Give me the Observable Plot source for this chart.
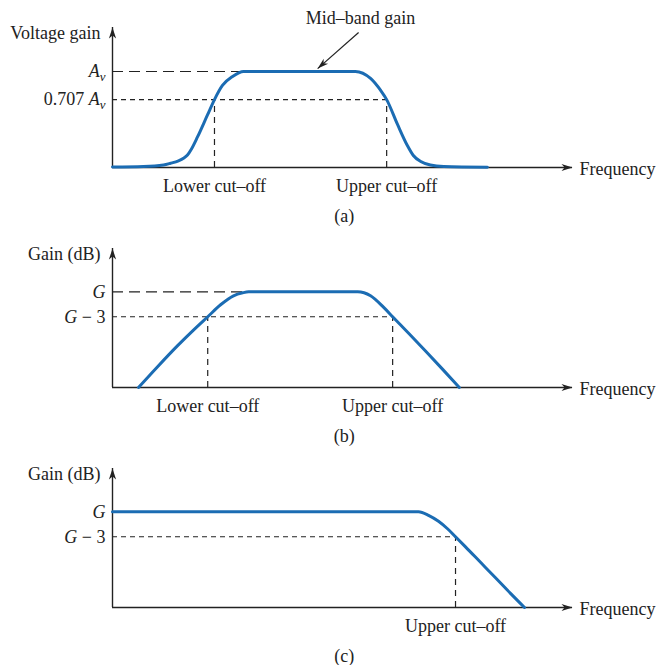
<!DOCTYPE html>
<html>
<head>
<meta charset="utf-8">
<script src="https://cdn.jsdelivr.net/npm/d3@7"></script>
<script src="https://cdn.jsdelivr.net/npm/@observablehq/plot@0.6"></script>
<style>
  body { margin: 0; background: #fff; }
  #chart svg { display: block; }
</style>
</head>
<body>
<div id="chart"></div>
<script>
// ---------------- DATA ----------------
// Frequency axis is schematic: arbitrary units 0..100 (100 = arrow tip)
// Panel (a): voltage gain in units of Av
const curveA_x = [0, 6.74, 11.09, 12.61, 14.35, 15.43, 16.30, 17.17, 18.48, 20.65, 22.17, 23.9, 26.1, 28.5, 52.8, 56.1, 58.3, 59.6, 61.96, 64.1, 65.4, 67.0, 69.1, 72.0, 81.5];
const curveA_y = [0.005, 0.01, 0.026, 0.044, 0.070, 0.096, 0.130, 0.193, 0.318, 0.547, 0.707, 0.854, 0.948, 1.0, 1.0, 0.927, 0.802, 0.707, 0.448, 0.229, 0.125, 0.0625, 0.026, 0.01, 0.003];
const levelsA = [1.0, 0.707];
const levelLabelsA = ["A_v", "0.707 A_v"];
const cutoffsA = [22.17, 59.6];
const midbandArrow = { x1: 53.5, y1: 1.406, x2: 44.6, y2: 1.03 };
const midbandLabel = { x: 53.9, y: 1.552, text: "Mid–band gain" };

// Panel (b): gain in dB relative to G (band-pass)
const curveB_x = [5.65, 9.8, 14.1, 17.6, 20.7, 23.5, 26.3, 28.3, 29.6, 53.3, 56.1, 58.9, 60.9, 64.53, 68.15, 71.78, 75.4];
const curveB_y = [-11.5, -9.0, -6.5, -4.6, -3.0, -1.56, -0.48, -0.12, 0, 0, -0.48, -1.85, -3.0, -5.08, -7.18, -9.32, -11.5];
const cutoffsB = [20.7, 60.9];

// Panel (c): gain in dB relative to G (low-pass)
const curveC_x = [0, 66.52, 68.70, 70.87, 72.83, 74.57, 76.74, 80.0, 83.26, 86.52, 89.57];
const curveC_y = [0, 0, -0.42, -1.14, -2.04, -3.0, -4.21, -6.07, -7.93, -9.80, -11.5];
const cutoffsC = [74.57];

const levelsDB = [0, -3];
const levelLabelsDB = ["G", "G − 3"];
const cutoffLabels = ["Lower cut–off", "Upper cut–off"];
const panelCaptions = ["(a)", "(b)", "(c)"];
const captionX = 50.4;
const xLabel = "Frequency";
const yTitles = ["Voltage gain", "Gain (dB)", "Gain (dB)"];

// ---------------- STYLE ----------------
const BLUE = "#1b6cb3";
const INK = "#222";
const FONT = '"Liberation Serif", "Times New Roman", serif';
const FS = 18;
const X_DOMAIN = [0, 100];

function arrowHead(angleDeg, len = 11, half = 3.6) {
  const a = angleDeg * Math.PI / 180, c = Math.cos(a), s = Math.sin(a);
  const pts = [[0, 0], [-len, -half], [-len * 0.72, 0], [-len, half]];
  return {
    draw(ctx) {
      pts.forEach(([x, y], i) => {
        const X = x * c - y * s, Y = x * s + y * c;
        i ? ctx.lineTo(X, Y) : ctx.moveTo(X, Y);
      });
      ctx.closePath();
    }
  };
}

function zip(xs, ys) { return xs.map((x, i) => ({ x, y: ys[i] })); }

function panel({ height, marginTop, marginBottom, yDomain, curve, levels, levelLabels, levelEnds,
                 cutoffs, cutoffLevel, labels, caption, yTitle, extra = [] }) {
  const y0 = yDomain[0], yTop = yDomain[1];
  const levelRows = levels.map((v, i) => ({ y: v, label: levelLabels[i], end: levelEnds[i] }));
  const cutRows = cutoffs.map((c, i) => ({ x: c, label: labels[i] }));
  const longRow = levelRows.slice(0, 1).filter(d => d.end != null);
  const shortRow = levelRows.slice(1).filter(d => d.end != null);
  return Plot.plot({
    width: 657, height, marginLeft: 112, marginRight: 85, marginTop, marginBottom,
    x: { domain: X_DOMAIN, axis: null },
    y: { domain: yDomain, axis: null },
    style: { fontFamily: FONT, fontSize: FS + "px", color: INK, background: "#fff", overflow: "visible" },
    marks: [
      // dashed level lines (long dashes at the top level, short dashes at the cut-off level)
      Plot.ruleY(longRow, { y: "y", x1: 0, x2: "end", stroke: INK, strokeWidth: 1.2, strokeDasharray: "11,6" }),
      Plot.ruleY(shortRow, { y: "y", x1: 0, x2: "end", stroke: INK, strokeWidth: 1.2, strokeDasharray: "5,4" }),
      // dashed cut-off verticals
      Plot.ruleX(cutRows, { x: "x", y1: y0, y2: cutoffLevel, stroke: INK, strokeWidth: 1.2, strokeDasharray: "6,5" }),
      // axes
      Plot.ruleX([0], { y1: y0, y2: yTop, stroke: INK, strokeWidth: 1.4 }),
      Plot.ruleY([y0], { x1: 0, x2: X_DOMAIN[1], stroke: INK, strokeWidth: 1.4 }),
      Plot.dot([{ x: 0, y: yTop }], { x: "x", y: "y", r: 4, symbol: arrowHead(-90), fill: INK, stroke: "none" }),
      Plot.dot([{ x: X_DOMAIN[1], y: y0 }], { x: "x", y: "y", r: 4, symbol: arrowHead(0), fill: INK, stroke: "none" }),
      // response curve
      Plot.line(curve, { x: "x", y: "y", curve: "monotone-x", stroke: BLUE, strokeWidth: 3 }),
      // level tick labels
      Plot.text(levelRows, { x: () => 0, y: "y", text: "label", textAnchor: "end", dx: -7, fontSize: FS, fill: INK }),
      // cut-off labels
      Plot.text(cutRows, { x: "x", y: () => y0, text: "label", dy: 19, fontSize: FS, fill: INK }),
      // axis titles
      Plot.text([yTitle], { x: () => 0, y: () => yTop, text: d => d, textAnchor: "end", dx: -12, dy: 6, fontSize: FS, fill: INK }),
      Plot.text([xLabel], { x: () => X_DOMAIN[1], y: () => y0, text: d => d, textAnchor: "start", dx: 7, dy: 2, fontSize: FS, fill: INK }),
      // caption
      Plot.text([caption], { x: () => captionX, y: () => y0, text: d => d, dy: 49, fontSize: FS, fill: INK }),
      ...extra
    ]
  });
}

function richText(svg) {
  const NS = "http://www.w3.org/2000/svg";
  const span = (txt, attrs = {}) => {
    const e = document.createElementNS(NS, "tspan");
    e.textContent = txt;
    for (const k in attrs) e.setAttribute(k, attrs[k]);
    return e;
  };
  svg.querySelectorAll("text").forEach(t => {
    const s = t.textContent;
    if (s.includes("A_v")) {
      const prefix = s.split("A_v")[0];
      t.textContent = "";
      if (prefix) t.appendChild(span(prefix));
      t.appendChild(span("A", { "font-style": "italic" }));
      t.appendChild(span("v", { "font-style": "italic", "font-size": "0.72em", dy: "0.28em" }));
    } else if (s === "G" || s.startsWith("G −")) {
      t.textContent = "";
      t.appendChild(span("G", { "font-style": "italic" }));
      if (s.length > 1) t.appendChild(span(s.slice(1)));
    }
  });
}

// ---------------- BUILD ----------------
const yDomA = [0, 1.458];
const sxA = d3.scaleLinear(X_DOMAIN, [112, 572]);
const syA = d3.scaleLinear(yDomA, [167, 27]);
const arrowAngle = Math.atan2(syA(midbandArrow.y2) - syA(midbandArrow.y1), sxA(midbandArrow.x2) - sxA(midbandArrow.x1)) * 180 / Math.PI;

const plotA = panel({
  height: 228, marginTop: 27, marginBottom: 61, yDomain: yDomA,
  curve: zip(curveA_x, curveA_y),
  levels: levelsA, levelLabels: levelLabelsA, levelEnds: [curveA_x[13], cutoffsA[1]],
  cutoffs: cutoffsA, cutoffLevel: levelsA[1], labels: cutoffLabels, caption: panelCaptions[0], yTitle: yTitles[0],
  extra: [
    Plot.link([midbandArrow], { x1: "x1", y1: "y1", x2: "x2", y2: "y2", stroke: INK, strokeWidth: 1.2 }),
    Plot.dot([midbandArrow], { x: "x2", y: "y2", r: 4, symbol: arrowHead(arrowAngle, 11, 3.4), fill: INK, stroke: "none" }),
    Plot.text([midbandLabel], { x: "x", y: "y", text: "text", fontSize: FS, fill: INK })
  ]
});

const yDomDB = [-11.5, 5.2];
const plotB = panel({
  height: 220, marginTop: 20, marginBottom: 61, yDomain: yDomDB,
  curve: zip(curveB_x, curveB_y),
  levels: levelsDB, levelLabels: levelLabelsDB, levelEnds: [curveB_x[8], cutoffsB[1]],
  cutoffs: cutoffsB, cutoffLevel: levelsDB[1], labels: cutoffLabels, caption: panelCaptions[1], yTitle: yTitles[1]
});

const plotC = panel({
  height: 217, marginTop: 20, marginBottom: 58, yDomain: yDomDB,
  curve: zip(curveC_x, curveC_y),
  levels: levelsDB, levelLabels: levelLabelsDB, levelEnds: [null, cutoffsC[0]],
  cutoffs: cutoffsC, cutoffLevel: levelsDB[1], labels: [cutoffLabels[1]], caption: panelCaptions[2], yTitle: yTitles[2]
});

const root = document.getElementById("chart");
[plotA, plotB, plotC].forEach(p => { richText(p); root.appendChild(p); });
</script>
</body>
</html>
